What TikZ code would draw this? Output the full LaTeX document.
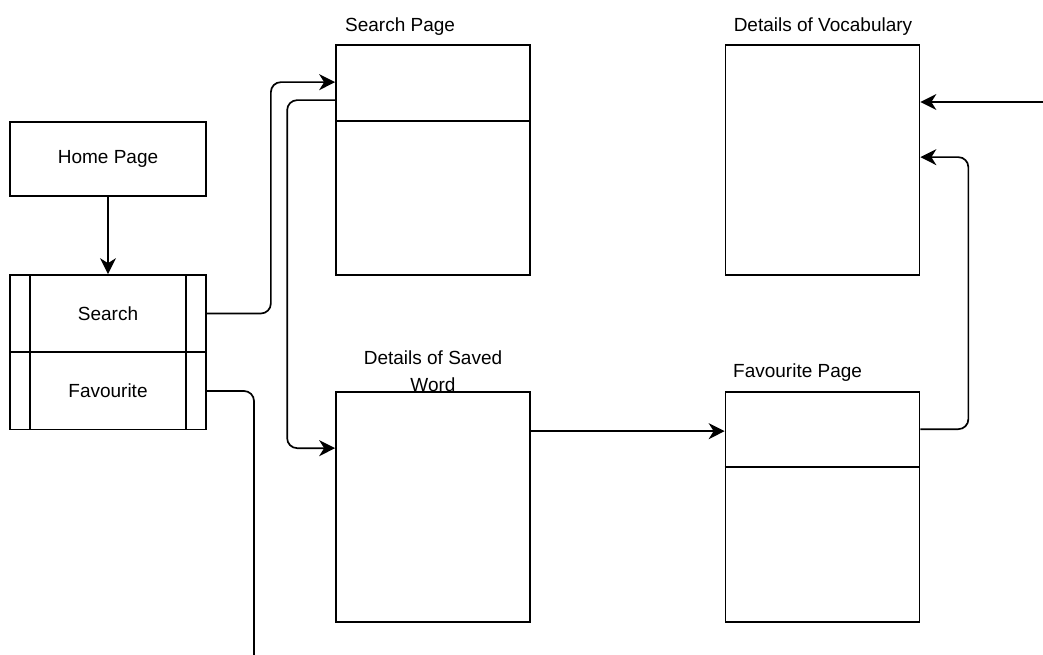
\documentclass[tikz,border=0pt]{standalone}
\usepackage{fontspec}
\setmainfont{Liberation Sans}
\usetikzlibrary{arrows.meta, positioning}

\begin{document}
\begin{tikzpicture}[x = 1pt, y = -1pt, line width = 1.7pt,
    font = \fontsize{19}{27}\selectfont,
    box/.style = {draw, minimum width = 196pt, minimum height = 74pt, inner sep = 0pt},
    cell/.style = {draw, minimum width = 196pt, minimum height = 77pt, inner sep = 0pt},
    screen/.style = {draw, minimum width = 194pt, minimum height = 230pt, inner sep = 0pt},
    flow/.style = {-{Stealth[length = 16pt, width = 16pt, inset = 5pt]}, rounded corners = 10pt},
    wire/.style = {rounded corners = 10pt}]

    \useasboundingbox (0, 0) rectangle (1043, 655);

    % left column
    \node (home) [box] at (108, 159) {Home Page};
    \node (search) [cell] at (108, 313.5) {Search};
    \node (fav) [cell] at (108, 391) {Favourite};
    \foreach \xpos in {30, 186}
        \draw (\xpos, 275) -- (\xpos, 430);

    % pages
    \node (srchpage) [screen] at (433, 160) {};
    \node (vocab) [screen] at (822.5, 160) {};
    \node (saved) [screen] at (433, 507) {};
    \node (favpage) [screen] at (822.5, 507) {};
    \draw ([yshift = -77pt]srchpage.north west) -- ([yshift = -77pt]srchpage.north east);
    \draw ([yshift = -76pt]favpage.north west) -- ([yshift = -76pt]favpage.north east);

    \node (srchlabel) [anchor = west] at (341, 27) {Search Page};
    \node (vocablabel) at (823, 27) {Details of Vocabulary};
    \node (savedlabel) [align = center] at (433, 371) {Details of Saved\\Word};
    \node (favlabel) [anchor = west] at (729, 373) {Favourite Page};

    \coordinate (favend) at (254, 660);
    \coordinate (vocabin) at (1043, 102);

    % connectors
    \draw [flow] (home) -- (search);
    \draw [flow] (search.east) -- ++(64, 0) |- ([yshift = -38pt]srchpage.north west);
    \draw [flow] ([yshift = -56pt]srchpage.north west) -- ++(-48, 0) |- ([yshift = -57pt]saved.north west);
    \draw [wire] (fav.east) -| (favend);
    \draw [flow] ([yshift = -40pt]saved.north east) -- ([yshift = -40pt]favpage.north west);
    \draw [flow] ([yshift = -38pt]favpage.north east) -- ++(48, 0) |- ([yshift = -113pt]vocab.north east);
    \draw [flow] (vocabin) -- (vocabin -| vocab.east);

\end{tikzpicture}
\end{document}
